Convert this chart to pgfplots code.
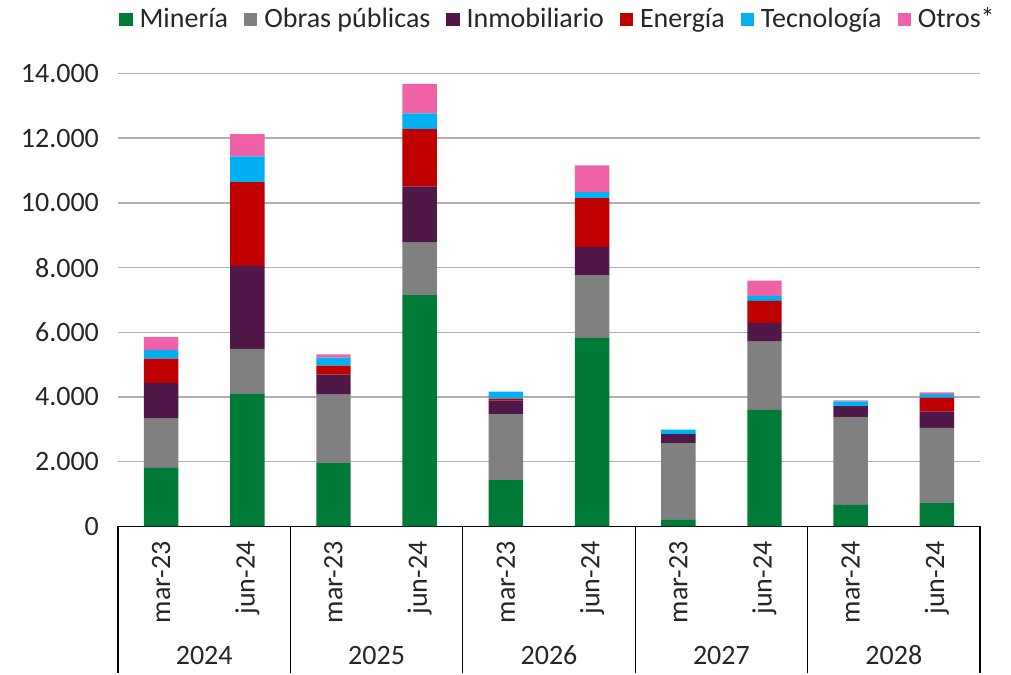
\documentclass[border=0pt]{standalone}
\usepackage{fontspec}
\setmainfont{Carlito}
\usepackage{pgfplots}
\usepackage{pgfplotstable}
\pgfplotsset{compat=1.18}

\definecolor{cMin}{HTML}{007A37}
\definecolor{cObr}{HTML}{808080}
\definecolor{cInm}{HTML}{501848}
\definecolor{cEne}{HTML}{C00000}
\definecolor{cTec}{HTML}{00B0F0}
\definecolor{cOtr}{HTML}{EF62A8}
\definecolor{gridgray}{HTML}{AFAFAF}

% columns: position, Mineria, Obras publicas, Inmobiliario, Energia, Tecnologia, Otros
\pgfplotstableread{
x  min   obr   inm   ene   tec  otr
0  1810  1520  1100  760   260  410
1  4100  1390  2565  2585  800  685
2  1960  2110  620   280   250  100
3  7150  1620  1740  1770  485  915
4  1430  2040  420   60    215  0
5  5830  1925  875   1515  185  825
6  215   2360  280   0     135  0
7  3605  2110  565   690   155  475
8  670   2710  340   0     145  30
9  720   2330  495   435   110  50
}\proyectos

\newcommand\fs{\fontsize{14}{16}\selectfont}

\begin{document}
\begin{tikzpicture}
\path (-59pt,-73.5pt) rectangle (446.5pt,263pt);
\begin{axis}[
    at={(0,0)}, anchor=south west,
    width=431pt, height=226.5pt, scale only axis,
    ybar stacked, bar width=0.4,
    xmin=-0.5, xmax=9.5, ymin=0, ymax=14000,
    axis x line*=bottom, axis y line*=left,
    x axis line style={black, line width=0.8pt, -},
    y axis line style={draw=none},
    xtick=data,
    xticklabels={mar-23,jun-24,mar-23,jun-24,mar-23,jun-24,mar-23,jun-24,mar-24,jun-24},
    xticklabel style={rotate=90, anchor=east, font=\fs, text=black!85, xshift=-4pt},
    xtick style={draw=none},
    ytick={0,2000,...,14000},
    ytick style={draw=none},
    scaled y ticks=false,
    yticklabel style={/pgf/number format/.cd, 1000 sep={.}, fixed,
        /pgf/number format/assume math mode=true, /tikz/.cd, font=\fs, text=black!85, xshift=-6pt},
    ymajorgrids, grid style={gridgray, line width=0.75pt},
    clip=false,
    legend columns=-1,
    legend style={at={(0.5,1)}, anchor=center, xshift=5pt, yshift=27pt, draw=none, fill=none,
        font=\fs, text=black!85,
        /tikz/every odd column/.append style={column sep=1.5pt},
        /tikz/every even column/.append style={column sep=6pt}},
    legend image code/.code={\fill[#1] (0pt,-3.3pt) rectangle (6.6pt,3.3pt);},
]
\addplot[fill=cMin, draw=none] table[x=x, y=min] {\proyectos};
\addplot[fill=cObr, draw=none] table[x=x, y=obr] {\proyectos};
\addplot[fill=cInm, draw=none] table[x=x, y=inm] {\proyectos};
\addplot[fill=cEne, draw=none] table[x=x, y=ene] {\proyectos};
\addplot[fill=cTec, draw=none] table[x=x, y=tec] {\proyectos};
\addplot[fill=cOtr, draw=none] table[x=x, y=otr] {\proyectos};
\legend{Minería, Obras públicas, Inmobiliario, Energía, Tecnología, Otros*}
% group separators below the axis
\draw[black, line width=0.6pt] (axis cs:-0.5,0) -- ++(0pt,-73.5pt);
\draw[black, line width=0.6pt] (axis cs:1.5,0) -- ++(0pt,-73.5pt);
\draw[black, line width=0.6pt] (axis cs:3.5,0) -- ++(0pt,-73.5pt);
\draw[black, line width=0.6pt] (axis cs:5.5,0) -- ++(0pt,-73.5pt);
\draw[black, line width=0.6pt] (axis cs:7.5,0) -- ++(0pt,-73.5pt);
\draw[black, line width=0.6pt] (axis cs:9.5,0) -- ++(0pt,-73.5pt);
\node[font=\fs, text=black!85, yshift=-64.5pt] at (axis cs:0.5,0) {2024};
\node[font=\fs, text=black!85, yshift=-64.5pt] at (axis cs:2.5,0) {2025};
\node[font=\fs, text=black!85, yshift=-64.5pt] at (axis cs:4.5,0) {2026};
\node[font=\fs, text=black!85, yshift=-64.5pt] at (axis cs:6.5,0) {2027};
\node[font=\fs, text=black!85, yshift=-64.5pt] at (axis cs:8.5,0) {2028};
\end{axis}
\end{tikzpicture}
\end{document}
